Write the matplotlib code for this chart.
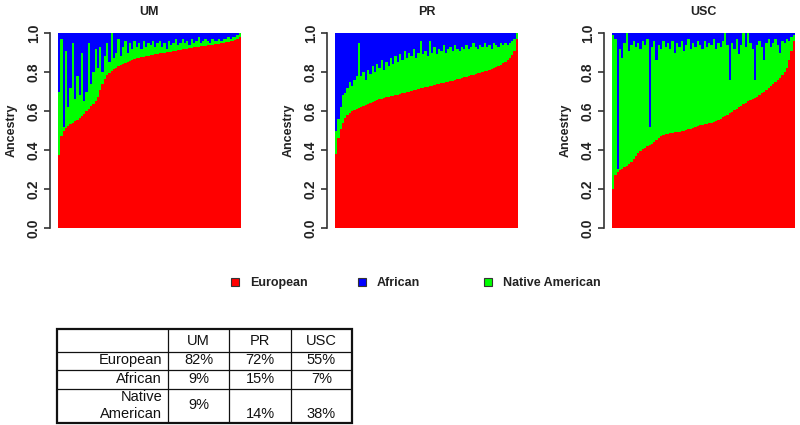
import numpy as np
import matplotlib
matplotlib.use("Agg")
import matplotlib.pyplot as plt
from matplotlib.patches import Rectangle

plt.rcParams['font.family'] = ['Liberation Sans', 'DejaVu Sans']

# ---------------- data ----------------
populations = ["UM", "PR", "USC"]
components = ["European", "African", "Native American"]

um_european = [0.375, 0.47, 0.50, 0.515, 0.525, 0.535, 0.54, 0.55, 0.555, 0.565,
               0.575, 0.585, 0.60, 0.61, 0.625, 0.635, 0.65, 0.67, 0.71, 0.74,
               0.765, 0.785, 0.795, 0.805, 0.815, 0.82, 0.83, 0.835, 0.84, 0.845,
               0.85, 0.855, 0.86, 0.865, 0.87, 0.872, 0.875, 0.878, 0.88, 0.883,
               0.886, 0.889, 0.891, 0.893, 0.895, 0.897, 0.899, 0.901, 0.903, 0.905,
               0.908, 0.91, 0.912, 0.914, 0.916, 0.918, 0.92, 0.922, 0.924, 0.926,
               0.928, 0.93, 0.931, 0.932, 0.934, 0.936, 0.938, 0.94, 0.942, 0.944,
               0.946, 0.948, 0.95, 0.952, 0.955, 0.958, 0.961, 0.965, 0.97, 0.977]
um_african = [0.30, 0.03, 0.48, 0.09, 0.38, 0.28, 0.05, 0.34, 0.22, 0.32,
              0.10, 0.35, 0.30, 0.05, 0.26, 0.20, 0.08, 0.18, 0.07, 0.20,
              0.12, 0.05, 0.15, 0.00, 0.13, 0.10, 0.03, 0.12, 0.07, 0.04,
              0.10, 0.05, 0.08, 0.04, 0.07, 0.05, 0.08, 0.04, 0.07, 0.05,
              0.06, 0.04, 0.07, 0.05, 0.04, 0.07, 0.05, 0.08, 0.04, 0.06,
              0.05, 0.03, 0.06, 0.05, 0.03, 0.05, 0.04, 0.06, 0.03, 0.05,
              0.04, 0.02, 0.05, 0.04, 0.03, 0.04, 0.05, 0.03, 0.04, 0.04,
              0.03, 0.04, 0.03, 0.03, 0.02, 0.03, 0.02, 0.02, 0.01, 0.00]

pr_european = [0.38, 0.46, 0.51, 0.54, 0.565, 0.58, 0.59, 0.60, 0.605, 0.61,
               0.615, 0.62, 0.625, 0.63, 0.635, 0.64, 0.645, 0.65, 0.655, 0.66,
               0.663, 0.666, 0.67, 0.672, 0.675, 0.678, 0.68, 0.683, 0.686, 0.69,
               0.692, 0.695, 0.70, 0.703, 0.706, 0.71, 0.713, 0.716, 0.72, 0.722,
               0.725, 0.728, 0.73, 0.733, 0.736, 0.74, 0.742, 0.745, 0.748, 0.75,
               0.753, 0.756, 0.76, 0.763, 0.766, 0.77, 0.773, 0.776, 0.78, 0.783,
               0.787, 0.79, 0.793, 0.797, 0.80, 0.803, 0.807, 0.81, 0.815, 0.82,
               0.825, 0.83, 0.837, 0.845, 0.853, 0.862, 0.873, 0.885, 0.91, 0.97]
pr_african = [0.50, 0.44, 0.38, 0.32, 0.31, 0.28, 0.25, 0.27, 0.24, 0.22,
              0.05, 0.22, 0.20, 0.24, 0.19, 0.21, 0.17, 0.20, 0.16, 0.18,
              0.14, 0.19, 0.15, 0.17, 0.13, 0.16, 0.12, 0.15, 0.11, 0.14,
              0.09, 0.13, 0.10, 0.12, 0.08, 0.13, 0.10, 0.04, 0.11, 0.09,
              0.12, 0.04, 0.10, 0.07, 0.11, 0.08, 0.09, 0.06, 0.10, 0.08,
              0.07, 0.09, 0.06, 0.08, 0.09, 0.07, 0.08, 0.06, 0.08, 0.07,
              0.05, 0.07, 0.08, 0.06, 0.07, 0.05, 0.07, 0.06, 0.08, 0.05,
              0.06, 0.07, 0.05, 0.06, 0.05, 0.06, 0.05, 0.04, 0.03, 0.00]

usc_european = [0.20, 0.27, 0.285, 0.295, 0.305, 0.315, 0.32, 0.33, 0.34, 0.355,
                0.37, 0.385, 0.395, 0.405, 0.412, 0.418, 0.424, 0.43, 0.44, 0.45,
                0.46, 0.47, 0.478, 0.482, 0.484, 0.486, 0.488, 0.49, 0.492, 0.494,
                0.497, 0.50, 0.503, 0.506, 0.51, 0.514, 0.518, 0.522, 0.526, 0.53,
                0.533, 0.535, 0.537, 0.54, 0.545, 0.55, 0.555, 0.56, 0.567, 0.575,
                0.582, 0.59, 0.597, 0.605, 0.612, 0.62, 0.627, 0.635, 0.642, 0.65,
                0.655, 0.66, 0.667, 0.673, 0.68, 0.69, 0.70, 0.71, 0.72, 0.73,
                0.74, 0.75, 0.76, 0.77, 0.785, 0.80, 0.82, 0.86, 0.91, 0.96]
usc_african = [0.01, 0.03, 0.70, 0.08, 0.13, 0.05, 0.00, 0.09, 0.06, 0.04,
               0.07, 0.05, 0.08, 0.04, 0.06, 0.03, 0.48, 0.07, 0.04, 0.14,
               0.06, 0.08, 0.04, 0.07, 0.05, 0.08, 0.04, 0.10, 0.05, 0.07,
               0.04, 0.09, 0.06, 0.03, 0.08, 0.05, 0.07, 0.04, 0.06, 0.08,
               0.04, 0.07, 0.05, 0.06, 0.03, 0.08, 0.05, 0.07, 0.04, 0.00,
               0.06, 0.24, 0.05, 0.08, 0.03, 0.11, 0.06, 0.00, 0.07, 0.00,
               0.05, 0.08, 0.24, 0.06, 0.04, 0.07, 0.14, 0.05, 0.03, 0.07,
               0.05, 0.03, 0.06, 0.10, 0.04, 0.05, 0.03, 0.04, 0.02, 0.01]

# summary table
table_rows = ["European", "African", "Native\nAmerican"]
summary_european = ["82%", "72%", "55%"]
summary_african = ["9%", "15%", "7%"]
summary_native = ["9%", "14%", "38%"]

# ---------------- style ----------------
RED = "#FF0000"
GREEN = "#00FF00"
BLUE = "#0000FF"
component_colors = [RED, BLUE, GREEN]
AXIS_COLOR = "#333333"

W, H = 800, 425
fig = plt.figure(figsize=(W / 100, H / 100), dpi=100)


def fx(px):
    return px / W


def fy(py):
    return 1 - py / H


european = [um_european, pr_european, usc_european]
african = [um_african, pr_african, usc_african]

panel_left = [58, 335, 612]
panel_w = 183
p_top, p_bot = 33, 228

for k, pop in enumerate(populations):
    eur = np.array(european[k])
    afr = np.array(african[k])
    nat = 1 - eur - afr
    n = len(eur)
    edges = np.arange(n + 1)
    ax = fig.add_axes([fx(panel_left[k]), fy(p_bot), panel_w / W, (p_bot - p_top) / H])
    ax.stairs(eur, edges, baseline=0, fill=True, color=RED, lw=0)
    ax.stairs(eur + nat, edges, baseline=eur, fill=True, color=GREEN, lw=0)
    ax.stairs(eur + nat + afr, edges, baseline=eur + nat, fill=True, color=BLUE, lw=0)
    ax.set_xlim(0, n)
    ax.set_ylim(0, 1)
    for s in ["top", "right", "bottom"]:
        ax.spines[s].set_visible(False)
    ax.spines["left"].set_position(("outward", 6))
    ax.spines["left"].set_bounds(0, 1)
    ax.spines["left"].set_color(AXIS_COLOR)
    ax.spines["left"].set_linewidth(1.2)
    ax.set_xticks([])
    ticks = [0.0, 0.2, 0.4, 0.6, 0.8, 1.0]
    ax.set_yticks(ticks)
    ax.set_yticklabels([f"{t:.1f}" for t in ticks], rotation=90, va="center",
                       fontweight="bold", fontsize=10, color="#222222")
    ax.tick_params(axis="y", length=4.5, width=1.2, pad=2, color=AXIS_COLOR)
    ax.patch.set_visible(False)
    fig.text(fx(panel_left[k] + panel_w / 2), fy(12), pop, ha="center", va="center",
             fontweight="bold", fontsize=9, color="#222222")
    fig.text(fx(panel_left[k] - 46.5), fy((p_top + p_bot) / 2), "Ancestry",
             rotation=90, ha="center", va="center", fontweight="bold", fontsize=9,
             color="#222222")

# ---------------- legend ----------------
leg_y = 282
for i, (name, col) in enumerate(zip(components, component_colors)):
    sx = 235 + 126.5 * i
    fig.patches.append(Rectangle((fx(sx - 4), fy(leg_y + 4)), 8 / W, 8 / H,
                                 transform=fig.transFigure, facecolor=col,
                                 edgecolor="#333333", linewidth=0.8))
    fig.text(fx(sx + 15), fy(leg_y + 1), name, ha="left", va="center",
             fontweight="bold", fontsize=9, color="#222222")

# ---------------- table ----------------
tx0, tx1, ty0, ty1 = 57, 352, 329, 423
tax = fig.add_axes([fx(tx0), fy(ty1), (tx1 - tx0) / W, (ty1 - ty0) / H])
tax.set_xlim(tx0, tx1)
tax.set_ylim(ty1, ty0)
tax.axis("off")
col_b = [57, 168, 229, 291, 352]
row_b = [329, 352, 370, 389, 423]
for xb in col_b[1:-1]:
    tax.plot([xb, xb], [ty0, ty1], color="#111111", lw=0.9)
for yb in row_b[1:-1]:
    tax.plot([tx0, tx1], [yb, yb], color="#111111", lw=0.9)
tax.add_patch(Rectangle((tx0, ty0), tx1 - tx0, ty1 - ty0, fill=False,
                        edgecolor="#111111", lw=1.6, clip_on=False))

TFS = 10.5
col_c = [(col_b[j] + col_b[j + 1]) / 2 for j in range(1, 4)]
for j, pop in enumerate(populations):
    tax.text(col_c[j], 341, pop, ha="center", va="center", fontsize=TFS, color="#111111")
tax.text(162, 360, table_rows[0], ha="right", va="center", fontsize=TFS, color="#111111")
tax.text(162, 379, table_rows[1], ha="right", va="center", fontsize=TFS, color="#111111")
nat_lines = table_rows[2].split("\n")
tax.text(162, 397, nat_lines[0], ha="right", va="center", fontsize=TFS, color="#111111")
tax.text(162, 414, nat_lines[1], ha="right", va="center", fontsize=TFS, color="#111111")
for j in range(3):
    tax.text(col_c[j], 360, summary_european[j], ha="center", va="center", fontsize=TFS, color="#111111")
    tax.text(col_c[j], 379, summary_african[j], ha="center", va="center", fontsize=TFS, color="#111111")
native_y = [405, 414, 414]
for j in range(3):
    tax.text(col_c[j], native_y[j], summary_native[j], ha="center", va="center",
             fontsize=TFS, color="#111111")

fig.savefig("out.png", dpi=100, facecolor="white")
